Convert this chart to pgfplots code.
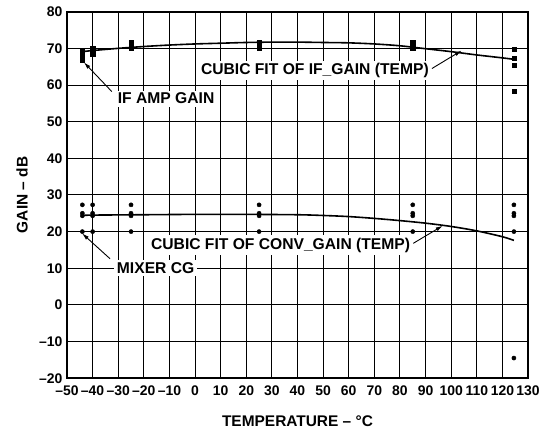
\documentclass[border=0pt]{standalone}
\usepackage{fontspec}
\setmainfont{Liberation Sans}
\usepackage{pgfplots}
\pgfplotsset{compat=1.18}
\usetikzlibrary{arrows.meta}
\begin{document}
\begin{tikzpicture}
\begin{axis}[
 scale only axis, width=461bp, height=366.5bp,
 xmin=-50,xmax=130,ymin=-20,ymax=80,
 xtick={-50,-40,...,130}, ytick={-20,-10,...,80},
 xticklabels={–50,–40,–30,–20,–10,0,10,20,30,40,50,60,70,80,90,100,110,120,130},
 yticklabels={–20,–10,0,10,20,30,40,50,60,70,80},
 major tick length=0pt,
 grid=major,
 major grid style={black, line width=0.9bp},
 axis line style={line width=1.8bp},
 ticklabel style={font=\fontsize{14}{15}\selectfont\bfseries},
 xticklabel style={yshift=-4.5bp},
 yticklabel style={xshift=-1bp},
 xlabel={TEMPERATURE – °C}, ylabel={GAIN – dB},
 label style={font=\fontsize{15.5}{16}\selectfont\bfseries},
 xlabel style={at={(axis description cs:0.5,0)}, anchor=center, yshift=-43bp},
 ylabel style={at={(axis description cs:0,0.5)}, anchor=center, yshift=45bp},
]
% IF amp gain data
\addplot[only marks, mark=square*, mark size=2.1bp, black] coordinates {
(-44,69.3)(-44,68.4)(-44,67.6)(-44,66.8)
(-40,70.1)(-40,69.2)(-40,68.3)
(-25,71.6)(-25,70.8)(-25,70.0)
(25,71.6)(25,70.8)(25,70.0)
(85,71.6)(85,70.8)(85,70.0)
(124.5,69.7)(124.5,67.3)(124.5,65.5)(124.5,58.4)
};
% Mixer CG data
\addplot[only marks, mark=*, mark size=2.1bp, black] coordinates {
(-44,27.3)(-44,25)(-44,24.3)(-44,20)
(-40,27.3)(-40,25)(-40,24.3)(-40,20)
(-25,27.3)(-25,25)(-25,24.3)(-25,20)
(25,27.3)(25,25)(25,24.3)(25,20)
(85,27.3)(85,25)(85,24.3)(85,20)
(124.5,27.3)(124.5,25)(124.5,24.3)(124.5,20)(124.5,-14.5)
};
% cubic fit IF gain
\addplot[black, line width=1.6bp, smooth, no marks] coordinates {
(-44,69.1)(-40,69.4)(-30,70.0)(-20,70.5)(-10,70.9)(0,71.2)(10,71.4)(20,71.6)
(30,71.7)(40,71.7)(50,71.6)(60,71.5)(70,71.2)(80,70.7)(90,69.9)(100,69.1)
(110,68.2)(120,67.4)(124.5,67.0)
};
% cubic fit conv gain
\addplot[black, line width=1.6bp, smooth, no marks] coordinates {
(-44,24.4)(-40,24.5)(-20,24.6)(0,24.7)(20,24.7)(40,24.6)(50,24.4)(60,24.1)
(70,23.6)(80,23.0)(90,22.3)(100,21.4)(110,20.2)(120,18.6)(124.5,17.6)
};
\tikzset{lab/.style={fill=white, inner sep=2.5bp, font=\fontsize{15.7}{16}\selectfont\bfseries},
 arr/.style={-{Latex[length=7bp,width=4bp]}, line width=0.9bp}}
\node[lab] at (axis cs:-11.3,56.3) {IF AMP GAIN};
\node[lab] at (axis cs:46.8,64) {CUBIC FIT OF IF\_GAIN (TEMP)};
\node[lab] at (axis cs:33.4,16.3) {CUBIC FIT OF CONV\_GAIN (TEMP)};
\node[lab] at (axis cs:-15.4,10) {MIXER CG};
\draw[arr] (axis cs:-32.5,58.2) -- (axis cs:-43.4,66.2);
\draw[arr] (axis cs:92.5,64.5) -- (axis cs:104.1,69.4);
\draw[arr] (axis cs:85.2,16.8) -- (axis cs:96.7,21.6);
\draw[arr] (axis cs:-33.2,12.6) -- (axis cs:-44.1,19.5);
\end{axis}
\pgfresetboundingbox
\useasboundingbox ([shift={(-67bp,-51bp)}]current axis.south west) rectangle ([shift={(21bp,11.7bp)}]current axis.north east);
\end{tikzpicture}
\end{document}
